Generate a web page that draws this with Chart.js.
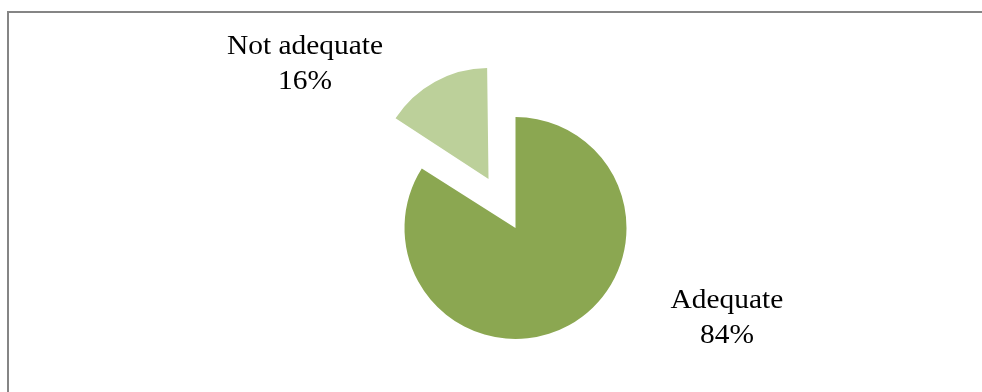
<!DOCTYPE html>
<html>
<head>
<meta charset="utf-8">
<script src="https://cdn.jsdelivr.net/npm/chart.js@4/dist/chart.umd.min.js"></script>
<style>
  html, body { margin: 0; padding: 0; background: #fff; }
  #wrap { position: relative; width: 982px; height: 392px; overflow: hidden; }
  #frame {
    position: absolute; left: 7px; top: 11px; width: 1000px; height: 400px;
    border-top: 2px solid #858585; border-left: 2px solid #858585;
  }
  #chart { position: absolute; left: 0; top: 0; }
</style>
</head>
<body>
<div id="wrap">
  <div id="frame"></div>
  <canvas id="chart" width="982" height="392"></canvas>
</div>
<script>
let categories = ['Adequate', 'Not adequate'];
let shares = [84, 16];
let sliceColors = ['#8ba751', '#bcd09a'];
// arc elements move a slice out by offset / 4
let explode = [0, 224];

// where each label sits relative to the outer edge of its slice
let labelShift = [[158, -17], [-130, -28]];

// an offset arc is also drawn a little larger; shrink it back so both slices share one radius
let keepRadius = {
  id: 'keepRadius',
  afterDatasetUpdate(chart, args) {
    args.meta.data.forEach((arc, i) => {
      let off = explode[i] / 4;
      if (!off) return;
      let fix = 1 - Math.sin(Math.min(Math.PI, arc.circumference));
      arc.outerRadius -= off * fix;
    });
  }
};

let sliceLabels = {
  id: 'sliceLabels',
  afterDatasetsDraw(chart) {
    let ctx = chart.ctx;
    let meta = chart.getDatasetMeta(0);
    ctx.save();
    ctx.font = '27px "Liberation Serif", "Times New Roman", serif';
    ctx.fillStyle = '#000';
    ctx.textAlign = 'center';
    ctx.textBaseline = 'alphabetic';
    meta.data.forEach((arc, i) => {
      let mid = (arc.startAngle + arc.endAngle) / 2;
      let r = 111 + explode[i] / 4;
      let x = arc.x + Math.cos(mid) * r + labelShift[i][0];
      let y = arc.y + Math.sin(mid) * r + labelShift[i][1];
      ctx.save();
      ctx.translate(x, y);
      ctx.scale(1.09, 1);
      ctx.fillText(categories[i], 0, 0);
      ctx.fillText(shares[i] + '%', 0, 35);
      ctx.restore();
    });
    ctx.restore();
  }
};

let pieChart = new Chart(document.getElementById('chart'), {
  type: 'pie',
  data: {
    labels: categories,
    datasets: [{
      data: shares,
      backgroundColor: sliceColors,
      borderWidth: 0,
      offset: explode,
      radius: 111
    }]
  },
  options: {
    responsive: false,
    animation: false,
    layout: { padding: { left: 49, right: 0, top: 64, bottom: 0 } },
    plugins: {
      legend: { display: false },
      tooltip: { enabled: false }
    }
  },
  plugins: [keepRadius, sliceLabels]
});
</script>
</body>
</html>
